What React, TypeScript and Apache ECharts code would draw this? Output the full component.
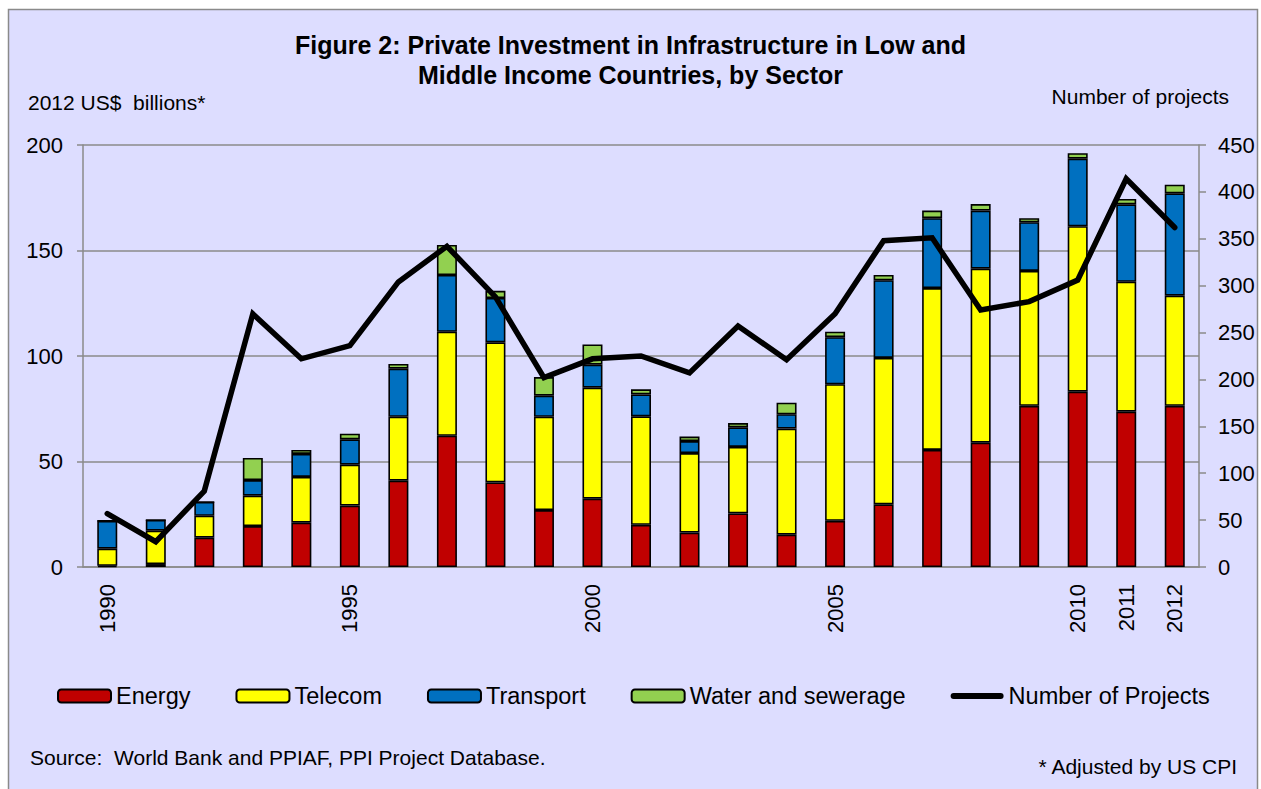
import React, { useEffect, useRef } from "react";
import * as echarts from "echarts";

const years = ["1990","1991","1992","1993","1994","1995","1996","1997","1998","1999","2000","2001","2002","2003","2004","2005","2006","2007","2008","2009","2010","2011","2012"];
const shownYears = ["1990", "1995", "2000", "2005", "2010", "2011", "2012"];
const energy = [0.6, 1.4, 13.9, 19.4, 21.0, 29.1, 40.9, 62.2, 40.1, 27.0, 32.4, 20.0, 16.3, 25.4, 15.3, 21.9, 29.7, 55.5, 58.9, 76.4, 83.1, 73.6, 76.4];
const telecom = [8.1, 15.8, 10.4, 14.4, 21.7, 19.4, 30.3, 49.3, 66.4, 44.2, 52.6, 51.4, 37.7, 31.5, 50.3, 64.7, 69.4, 76.7, 82.5, 63.9, 78.4, 61.6, 52.2];
const transport = [13.2, 5.1, 6.5, 7.4, 10.9, 12.0, 22.8, 26.9, 21.0, 10.0, 10.9, 10.4, 5.7, 9.3, 6.8, 22.3, 36.8, 33.1, 27.5, 23.1, 32.0, 36.7, 48.5];
const water = [0, 0, 0, 10.5, 1.9, 2.7, 2.2, 14.2, 3.4, 8.8, 9.6, 2.4, 2.1, 2.0, 5.5, 2.6, 2.5, 3.6, 3.1, 1.9, 2.6, 2.5, 4.1];
const projects = [57, 27, 81, 270, 222, 236, 304, 342, 288, 202, 222, 225, 207, 257, 221, 270, 348, 351, 274, 283, 306, 414, 362];

const titleText = "Figure 2: Private Investment in Infrastructure in Low and\nMiddle Income Countries, by Sector";
const leftAxisTitle = "2012 US$  billions*";
const rightAxisTitle = "Number of projects";
const sourceText = "Source:  World Bank and PPIAF, PPI Project Database.";
const noteText = "* Adjusted by US CPI";

const FONT = "'Liberation Sans', Arial, sans-serif";
const BG = "#DDDDFF";
const LINE_ICON = "path://M3,0 H50 A3,3 0 0 1 50,6 H3 A3,3 0 0 1 3,0 Z";

export default function App() {
  const ref = useRef<HTMLDivElement>(null);
  useEffect(() => {
    document.body.style.margin = "0";
    const chart = echarts.init(ref.current!, null, { renderer: "svg" });
    const barStyle = (color: string) => ({ color, borderColor: "#000", borderWidth: 1.6 });
    const bar = (name: string, data: number[], color: string) => ({
      name,
      type: "bar",
      stack: "total",
      barWidth: 20,
      data,
      itemStyle: barStyle(color),
      yAxisIndex: 0,
    });
    chart.setOption({
      animation: false,
      backgroundColor: "#fff",
      textStyle: { fontFamily: FONT },
      title: {
        text: titleText,
        left: "center",
        top: 30,
        padding: 0,
        textStyle: { fontSize: 25, fontWeight: "bold", lineHeight: 30, color: "#000", fontFamily: FONT },
      },
      graphic: [
        {
          type: "rect",
          z: -10,
          silent: true,
          shape: { x: 8.5, y: 9.5, width: 1249, height: 800 },
          style: { fill: BG, stroke: "#8a8a8a", lineWidth: 1.5 },
        },
        {
          type: "text", x: 28, y: 102, z: 10,
          style: { text: leftAxisTitle, fontSize: 21, fontFamily: FONT, fill: "#000", align: "left", verticalAlign: "middle" },
        },
        {
          type: "text", x: 1229, y: 96, z: 10,
          style: { text: rightAxisTitle, fontSize: 21, fontFamily: FONT, fill: "#000", align: "right", verticalAlign: "middle" },
        },
        {
          type: "text", x: 30, y: 757, z: 10,
          style: { text: sourceText, fontSize: 21, fontFamily: FONT, fill: "#000", align: "left", verticalAlign: "middle" },
        },
        {
          type: "text", x: 1237, y: 766, z: 10,
          style: { text: noteText, fontSize: 21, fontFamily: FONT, fill: "#000", align: "right", verticalAlign: "middle" },
        },
      ],
      legend: {
        left: 57,
        top: 684,
        padding: 0,
        itemWidth: 53,
        itemHeight: 13,
        itemGap: 45,
        textStyle: { fontSize: 23.5, color: "#000", fontFamily: FONT },
        data: [
          "Energy",
          "Telecom",
          "Transport",
          "Water and sewerage",
          { name: "Number of Projects", icon: LINE_ICON, itemStyle: { color: "#000", borderWidth: 0 } },
        ],
      },
      grid: { left: 83, right: 62, top: 145, bottom: 222, containLabel: false },
      xAxis: {
        type: "category",
        data: years,
        axisLine: { show: true, lineStyle: { color: "#8a8a8a", width: 1.5 } },
        axisTick: { show: false },
        axisLabel: {
          rotate: 90,
          margin: 17,
          fontSize: 22,
          color: "#000",
          fontFamily: FONT,
          interval: (_i: number, v: string) => shownYears.includes(v),
        },
      },
      yAxis: [
        {
          type: "value",
          min: 0,
          max: 200,
          interval: 50,
          position: "left",
          axisLine: { show: true, lineStyle: { color: "#8a8a8a", width: 1.5 } },
          axisTick: { show: true, length: 6, lineStyle: { color: "#8a8a8a", width: 1.5 } },
          axisLabel: { fontSize: 22, color: "#000", margin: 20, fontFamily: FONT },
          splitLine: { show: true, lineStyle: { color: "#8a8a8a", width: 1.5 } },
        },
        {
          type: "value",
          min: 0,
          max: 450,
          interval: 50,
          position: "right",
          axisLine: { show: true, lineStyle: { color: "#8a8a8a", width: 1.5 } },
          axisTick: { show: true, length: 7, lineStyle: { color: "#8a8a8a", width: 1.5 } },
          axisLabel: { fontSize: 22, color: "#000", margin: 19, fontFamily: FONT },
          splitLine: { show: false },
        },
      ],
      series: [
        bar("Energy", energy, "#C00000"),
        bar("Telecom", telecom, "#FFFF00"),
        bar("Transport", transport, "#0070C0"),
        bar("Water and sewerage", water, "#92D050"),
        {
          name: "Number of Projects",
          type: "line",
          yAxisIndex: 1,
          data: projects,
          showSymbol: false,
          symbol: "none",
          z: 5,
          lineStyle: { color: "#000", width: 5.5, cap: "round", join: "miter" },
          itemStyle: { color: "#000" },
        },
      ],
    });
    return () => chart.dispose();
  }, []);
  return <div ref={ref} style={{ width: 1261, height: 789 }} />;
}
